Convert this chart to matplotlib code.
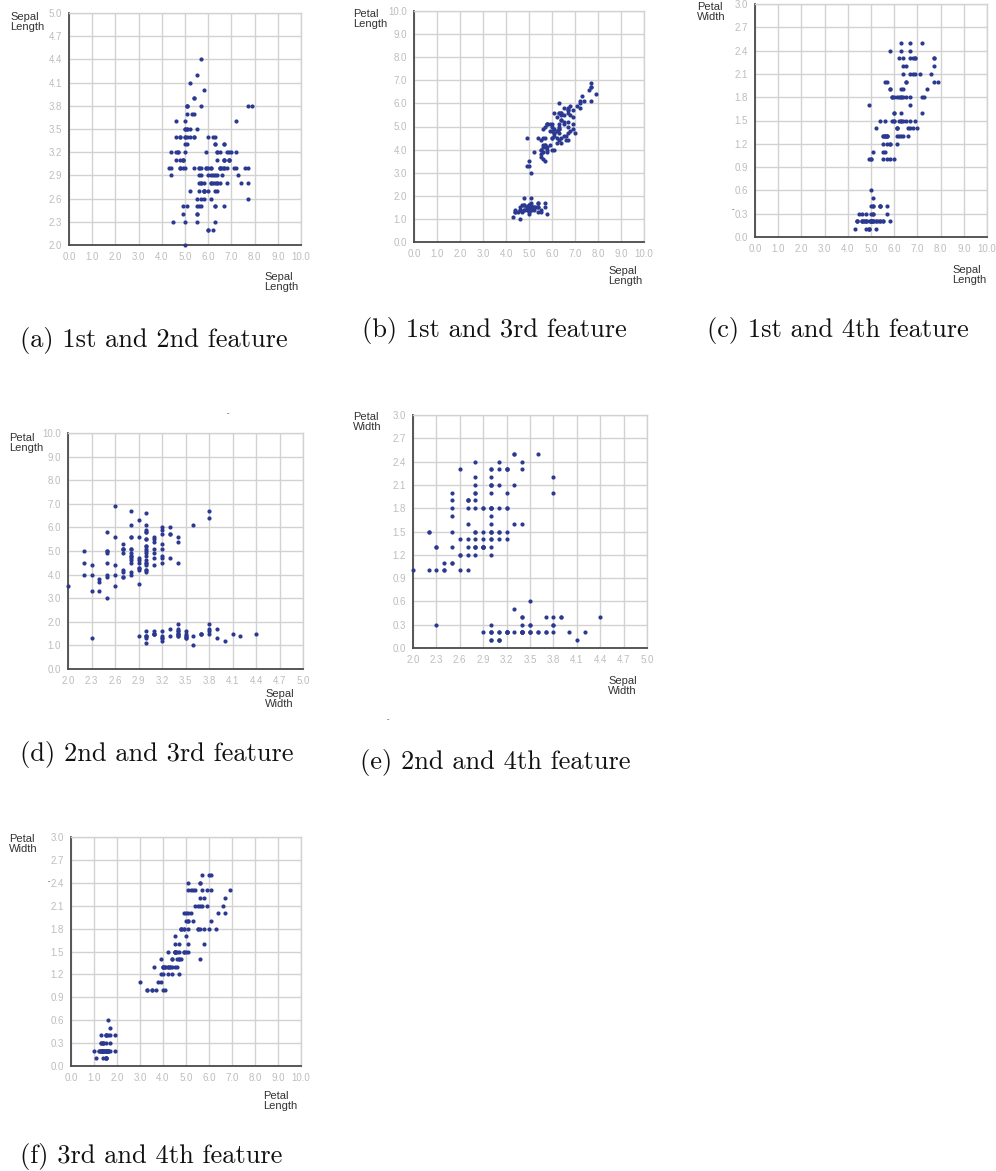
import numpy as np
import matplotlib
matplotlib.use('Agg')
import matplotlib.pyplot as plt

# Iris data: sepal length, sepal width, petal length, petal width
sepal_length = [
    5.1, 4.9, 4.7, 4.6, 5.0, 5.4, 4.6, 5.0, 4.4, 4.9, 5.4, 4.8, 4.8, 4.3, 5.8, 5.7, 5.4, 5.1, 5.7, 5.1,
    5.4, 5.1, 4.6, 5.1, 4.8, 5.0, 5.0, 5.2, 5.2, 4.7, 4.8, 5.4, 5.2, 5.5, 4.9, 5.0, 5.5, 4.9, 4.4, 5.1,
    5.0, 4.5, 4.4, 5.0, 5.1, 4.8, 5.1, 4.6, 5.3, 5.0,
    7.0, 6.4, 6.9, 5.5, 6.5, 5.7, 6.3, 4.9, 6.6, 5.2, 5.0, 5.9, 6.0, 6.1, 5.6, 6.7, 5.6, 5.8, 6.2, 5.6,
    5.9, 6.1, 6.3, 6.1, 6.4, 6.6, 6.8, 6.7, 6.0, 5.7, 5.5, 5.5, 5.8, 6.0, 5.4, 6.0, 6.7, 6.3, 5.6, 5.5,
    5.5, 6.1, 5.8, 5.0, 5.6, 5.7, 5.7, 6.2, 5.1, 5.7,
    6.3, 5.8, 7.1, 6.3, 6.5, 7.6, 4.9, 7.3, 6.7, 7.2, 6.5, 6.4, 6.8, 5.7, 5.8, 6.4, 6.5, 7.7, 7.7, 6.0,
    6.9, 5.6, 7.7, 6.3, 6.7, 7.2, 6.2, 6.1, 6.4, 7.2, 7.4, 7.9, 6.4, 6.3, 6.1, 7.7, 6.3, 6.4, 6.0, 6.9,
    6.7, 6.9, 5.8, 6.8, 6.7, 6.7, 6.3, 6.5, 6.2, 5.9]
sepal_width = [
    3.5, 3.0, 3.2, 3.1, 3.6, 3.9, 3.4, 3.4, 2.9, 3.1, 3.7, 3.4, 3.0, 3.0, 4.0, 4.4, 3.9, 3.5, 3.8, 3.8,
    3.4, 3.7, 3.6, 3.3, 3.4, 3.0, 3.4, 3.5, 3.4, 3.2, 3.1, 3.4, 4.1, 4.2, 3.1, 3.2, 3.5, 3.1, 3.0, 3.4,
    3.5, 2.3, 3.2, 3.5, 3.8, 3.0, 3.8, 3.2, 3.7, 3.3,
    3.2, 3.2, 3.1, 2.3, 2.8, 2.8, 3.3, 2.4, 2.9, 2.7, 2.0, 3.0, 2.2, 2.9, 2.9, 3.1, 3.0, 2.7, 2.2, 2.5,
    3.2, 2.8, 2.5, 2.8, 2.9, 3.0, 2.8, 3.0, 2.9, 2.6, 2.4, 2.4, 2.7, 2.7, 3.0, 3.4, 3.1, 2.3, 3.0, 2.5,
    2.6, 3.0, 2.6, 2.3, 2.7, 3.0, 2.9, 2.9, 2.5, 2.8,
    3.3, 2.7, 3.0, 2.9, 3.0, 3.0, 2.5, 2.9, 2.5, 3.6, 3.2, 2.7, 3.0, 2.5, 2.8, 3.2, 3.0, 3.8, 2.6, 2.2,
    3.2, 2.8, 2.8, 2.7, 3.3, 3.2, 2.8, 3.0, 2.8, 3.0, 2.8, 3.8, 2.8, 2.8, 2.6, 3.0, 3.4, 3.1, 3.0, 3.1,
    3.1, 3.1, 2.7, 3.2, 3.3, 3.0, 2.5, 3.0, 3.4, 3.0]
petal_length = [
    1.4, 1.4, 1.3, 1.5, 1.4, 1.7, 1.4, 1.5, 1.4, 1.5, 1.5, 1.6, 1.4, 1.1, 1.2, 1.5, 1.3, 1.4, 1.7, 1.5,
    1.7, 1.5, 1.0, 1.7, 1.9, 1.6, 1.6, 1.5, 1.4, 1.6, 1.6, 1.5, 1.5, 1.4, 1.5, 1.2, 1.3, 1.5, 1.3, 1.5,
    1.3, 1.3, 1.3, 1.6, 1.9, 1.4, 1.6, 1.4, 1.5, 1.4,
    4.7, 4.5, 4.9, 4.0, 4.6, 4.5, 4.7, 3.3, 4.6, 3.9, 3.5, 4.2, 4.0, 4.7, 3.6, 4.4, 4.5, 4.1, 4.5, 3.9,
    4.8, 4.0, 4.9, 4.7, 4.3, 4.4, 4.8, 5.0, 4.5, 3.5, 3.8, 3.7, 3.9, 5.1, 4.5, 4.5, 4.7, 4.4, 4.1, 4.0,
    4.4, 4.6, 4.0, 3.3, 4.2, 4.2, 4.2, 4.3, 3.0, 4.1,
    6.0, 5.1, 5.9, 5.6, 5.8, 6.6, 4.5, 6.3, 5.8, 6.1, 5.1, 5.3, 5.5, 5.0, 5.1, 5.3, 5.5, 6.7, 6.9, 5.0,
    5.7, 4.9, 6.7, 4.9, 5.7, 6.0, 4.8, 4.9, 5.6, 5.8, 6.1, 6.4, 5.6, 5.1, 5.6, 6.1, 5.6, 5.5, 4.8, 5.4,
    5.6, 5.1, 5.1, 5.9, 5.7, 5.2, 5.0, 5.2, 5.4, 5.1]
petal_width = [
    0.2, 0.2, 0.2, 0.2, 0.2, 0.4, 0.3, 0.2, 0.2, 0.1, 0.2, 0.2, 0.1, 0.1, 0.2, 0.4, 0.4, 0.3, 0.3, 0.3,
    0.2, 0.4, 0.2, 0.5, 0.2, 0.2, 0.4, 0.2, 0.2, 0.2, 0.2, 0.4, 0.1, 0.2, 0.1, 0.2, 0.2, 0.1, 0.2, 0.2,
    0.3, 0.3, 0.2, 0.6, 0.4, 0.3, 0.2, 0.2, 0.2, 0.2,
    1.4, 1.5, 1.5, 1.3, 1.5, 1.3, 1.6, 1.0, 1.3, 1.4, 1.0, 1.5, 1.0, 1.4, 1.3, 1.4, 1.5, 1.0, 1.5, 1.1,
    1.8, 1.3, 1.5, 1.2, 1.3, 1.4, 1.4, 1.7, 1.5, 1.0, 1.1, 1.0, 1.2, 1.6, 1.5, 1.6, 1.5, 1.3, 1.3, 1.3,
    1.2, 1.4, 1.2, 1.0, 1.3, 1.2, 1.3, 1.3, 1.1, 1.3,
    2.5, 1.9, 2.1, 1.8, 2.2, 2.1, 1.7, 1.8, 1.8, 2.5, 2.0, 1.9, 2.1, 2.0, 2.4, 2.3, 1.8, 2.2, 2.3, 1.5,
    2.3, 2.0, 2.0, 1.8, 2.1, 1.8, 1.8, 1.8, 2.1, 1.6, 1.9, 2.0, 2.2, 1.5, 1.4, 2.3, 2.4, 1.8, 1.8, 2.1,
    2.4, 2.3, 1.9, 2.3, 2.5, 2.3, 1.9, 2.0, 2.3, 1.8]

ticks_0_10 = [0.0, 1.0, 2.0, 3.0, 4.0, 5.0, 6.0, 7.0, 8.0, 9.0, 10.0]
ticks_2_5 = [2.0, 2.3, 2.6, 2.9, 3.2, 3.5, 3.8, 4.1, 4.4, 4.7, 5.0]
ticks_0_3 = [0.0, 0.3, 0.6, 0.9, 1.2, 1.5, 1.8, 2.1, 2.4, 2.7, 3.0]

captions = ['(a) 1st and 2nd feature', '(b) 1st and 3rd feature', '(c) 1st and 4th feature',
            '(d) 2nd and 3rd feature', '(e) 2nd and 4th feature', '(f) 3rd and 4th feature']

W, H = 996, 1171
fig = plt.figure(figsize=(W / 100, H / 100), dpi=100)

DOT = '#2b3990'
GRID = '#d2d2d2'
SPINE = '#4a4a4a'


def fx(px):
    return px / W


def fy(py):
    return 1 - py / H


def panel(box, xs, ys, xticks, yticks, xlabel, ylabel, ylab_xy, xlab_xy):
    l, t, r, b = box
    ax = fig.add_axes([fx(l), fy(b), (r - l) / W, (b - t) / H])
    ax.set_xlim(xticks[0], xticks[-1])
    ax.set_ylim(yticks[0], yticks[-1])
    ax.set_xticks(xticks)
    ax.set_yticks(yticks)
    ax.set_xticklabels(['%.1f' % v for v in xticks])
    ax.set_yticklabels(['%.1f' % v for v in yticks])
    ax.tick_params(length=0, labelsize=7, labelcolor='#bdbdbd', pad=5)
    for lab in ax.get_xticklabels() + ax.get_yticklabels():
        lab.set_fontfamily('Liberation Sans')
    ax.grid(True, color=GRID, linewidth=1.0)
    ax.set_axisbelow(True)
    for s in ['top', 'right']:
        ax.spines[s].set_color(GRID)
        ax.spines[s].set_linewidth(1.0)
    for s in ['left', 'bottom']:
        ax.spines[s].set_color(SPINE)
        ax.spines[s].set_linewidth(1.3)
    ax.scatter(xs, ys, s=9, color=DOT, linewidths=0, zorder=3, clip_on=False)
    fig.text(fx(ylab_xy[0]), fy(ylab_xy[1]), ylabel, ha='left', va='top',
             fontsize=8, color='#333333', family='Liberation Sans', linespacing=1.05)
    fig.text(fx(xlab_xy[0]), fy(xlab_xy[1]), xlabel, ha='left', va='top',
             fontsize=8, color='#333333', family='Liberation Sans', linespacing=1.05)
    return ax


panel((69, 13, 301, 245), sepal_length, sepal_width, ticks_0_10, ticks_2_5,
      'Sepal\nLength', 'Sepal\nLength', (10, 12), (264, 272))
panel((414, 11, 644, 242), sepal_length, petal_length, ticks_0_10, ticks_0_10,
      'Sepal\nLength', 'Petal\nLength', (353, 9), (608, 266))
panel((755, 4, 987, 237), sepal_length, petal_width, ticks_0_10, ticks_0_3,
      'Sepal\nLength', 'Petal\nWidth', (697, 2), (952, 265))
panel((68, 433, 303, 669), sepal_width, petal_length, ticks_2_5, ticks_0_10,
      'Sepal\nWidth', 'Petal\nLength', (9, 433), (265, 689))
panel((413, 415, 647, 648), sepal_width, petal_width, ticks_2_5, ticks_0_3,
      'Sepal\nWidth', 'Petal\nWidth', (353, 412), (608, 676))
panel((71, 837, 301, 1066), petal_length, petal_width, ticks_0_10, ticks_0_3,
      'Petal\nLength', 'Petal\nWidth', (9, 834), (263, 1091))

# small stray marks in the original
for px, py in [(733, 209), (228, 413), (388, 719), (49, 881)]:
    fig.text(fx(px), fy(py), '-', ha='center', va='center', fontsize=5, color='#333333')

cap_pos = [(20, 340), (362, 330), (707, 330), (20, 755), (360, 762), (20, 1157)]
for cap, (px, py) in zip(captions, cap_pos):
    fig.text(fx(px), fy(py), cap, ha='left', va='center', fontsize=19, family='cmr10', color='#111111')

fig.savefig('out.png', dpi=100)
